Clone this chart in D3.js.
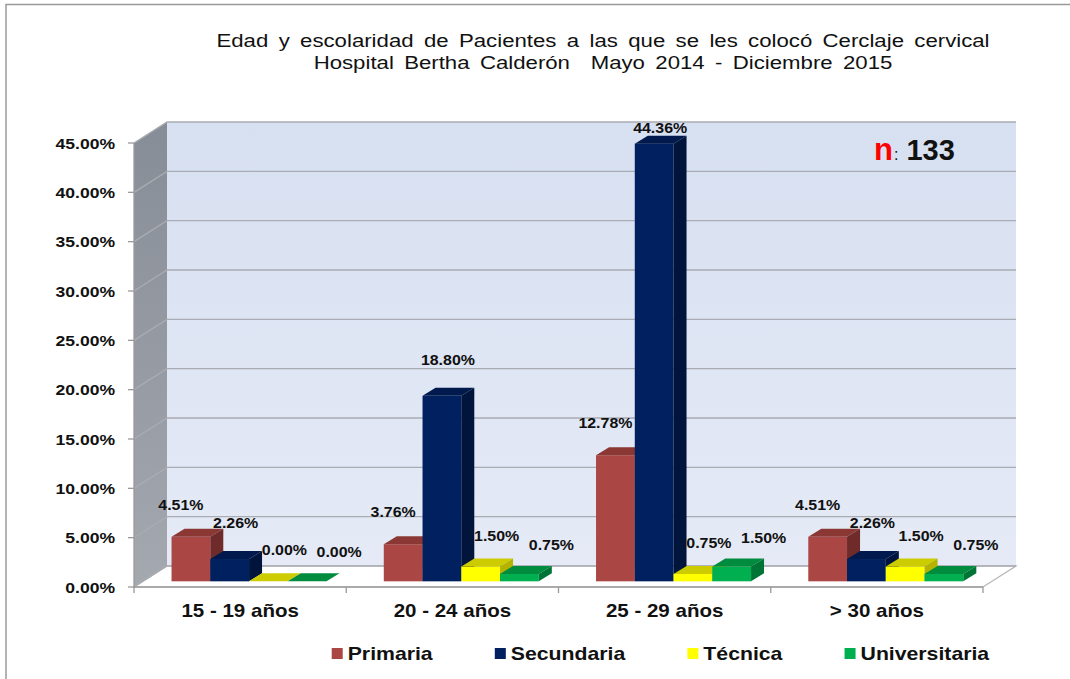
<!DOCTYPE html>
<html>
<head>
<meta charset="utf-8">
<script src="https://cdn.jsdelivr.net/npm/d3@7"></script>
<style>
  body { margin: 0; background: #fff; }
  svg { display: block; font-family: "Liberation Sans", Arial, sans-serif; }
  text { white-space: pre; }
</style>
</head>
<body>
<div id="chart"></div>
<script>
// data
var categories = ["15 - 19 años", "20 - 24 años", "25 - 29 años", "> 30 años"];
var series = ["Primaria", "Secundaria", "Técnica", "Universitaria"];
var primaria = [4.51, 3.76, 12.78, 4.51];
var secundaria = [2.26, 18.80, 44.36, 2.26];
var tecnica = [0.00, 1.50, 0.75, 1.50];
var universitaria = [0.00, 0.75, 1.50, 0.75];
var yTicks = [0, 5, 10, 15, 20, 25, 30, 35, 40, 45];
var titleLines = [
	"Edad y escolaridad de Pacientes a las que se les colocó Cerclaje cervical",
	"Hospital Bertha Calderón  Mayo 2014 - Diciembre 2015"
];
var sampleSize = 133;

var values = [primaria, secundaria, tecnica, universitaria];

// front, top and side colours for each series
var palette = [
	{ front: "#aa4643", top: "#8b3835", side: "#6e2b29" },
	{ front: "#002060", top: "#001a4e", side: "#00143c" },
	{ front: "#ffff00", top: "#cccc00", side: "#b3b300" },
	{ front: "#00b050", top: "#008c3f", side: "#007434" }
];

var width = 1070, height = 679;
var plot = { left: 134, right: 983, top: 143, bottom: 587 };
var depth = { dx: 33, dy: -21 };     // floor / wall depth
var barDepth = { dx: 13, dy: -8 };   // depth of each bar
var barShift = 0.27;                 // bars sit a bit behind the front edge

var svg = d3.select("#chart")
	.append("svg")
	.attr("width", width)
	.attr("height", height);

var defs = svg.append("defs");
var g1 = defs.append("linearGradient").attr("id", "wall").attr("x1", 0).attr("y1", 0).attr("x2", 0).attr("y2", 1);
g1.append("stop").attr("offset", "0%").attr("stop-color", "#d7e0f1");
g1.append("stop").attr("offset", "100%").attr("stop-color", "#e5eaf6");
var g2 = defs.append("linearGradient").attr("id", "side").attr("x1", 0).attr("y1", 0).attr("x2", 0).attr("y2", 1);
g2.append("stop").attr("offset", "0%").attr("stop-color", "#878d97");
g2.append("stop").attr("offset", "100%").attr("stop-color", "#a4a8af");

// outer frame
svg.append("path")
	.attr("d", "M6," + height + "V4.5H" + width)
	.attr("fill", "none")
	.attr("stroke", "#9a9a9a")
	.attr("stroke-width", 1.5);

var y = d3.scaleLinear().domain([0, 45]).range([plot.bottom, plot.top]);
var x = d3.scaleBand().domain(categories).range([plot.left, plot.right]);
var groupWidth = 155;
var xs = d3.scaleBand().domain(series).range([0, groupWidth]);

var stretch = (sel, sx) => sel.attr("transform", function () {
	var px = +d3.select(this).attr("data-x"), py = +d3.select(this).attr("data-y");
	return "translate(" + px + "," + py + ") scale(" + sx + ",1)";
});

// title
svg.append("g").selectAll("text")
	.data(titleLines)
	.join("text")
	.attr("data-x", 603)
	.attr("data-y", (d, i) => 47 + i * 22)
	.attr("text-anchor", "middle")
	.attr("font-size", 18.5)
	.attr("word-spacing", 3.5)
	.attr("fill", "#111")
	.text(d => d)
	.call(stretch, 1.2);

// back wall
var bx0 = plot.left + depth.dx, bx1 = plot.right + depth.dx;
svg.append("rect")
	.attr("x", bx0)
	.attr("y", y(45) + depth.dy)
	.attr("width", bx1 - bx0)
	.attr("height", y(0) - y(45))
	.attr("fill", "url(#wall)");

// side wall
svg.append("path")
	.attr("d", "M" + plot.left + "," + y(45) + "L" + bx0 + "," + (y(45) + depth.dy) +
		"L" + bx0 + "," + (y(0) + depth.dy) + "L" + plot.left + "," + y(0) + "Z")
	.attr("fill", "url(#side)");

// floor
svg.append("path")
	.attr("d", "M" + plot.left + "," + y(0) + "L" + bx0 + "," + (y(0) + depth.dy) +
		"L" + bx1 + "," + (y(0) + depth.dy) + "L" + plot.right + "," + y(0) + "Z")
	.attr("fill", "#fff")
	.attr("stroke", "#b4b4b4")
	.attr("stroke-width", 1.2);

// gridlines on back and side wall
var grid = svg.append("g").attr("stroke", "#a9acb2").attr("stroke-width", 1.3).attr("fill", "none");
grid.selectAll("path")
	.data(yTicks)
	.join("path")
	.attr("d", d => "M" + plot.left + "," + y(d) + "L" + bx0 + "," + (y(d) + depth.dy) + "H" + bx1);

// axes
var axes = svg.append("g").attr("stroke", "#9a9a9a").attr("stroke-width", 1.3).attr("fill", "none");
axes.append("path").attr("d", "M" + plot.left + "," + y(45) + "V" + y(0) + "H" + plot.right);
axes.selectAll(".yt")
	.data(yTicks)
	.join("path")
	.attr("class", "yt")
	.attr("d", d => "M" + (plot.left - 6) + "," + y(d) + "H" + plot.left);
axes.selectAll(".xt")
	.data(categories.concat([null]))
	.join("path")
	.attr("class", "xt")
	.attr("d", (d, i) => {
		var px = d === null ? plot.right : x(d);
		return "M" + px + "," + y(0) + "v6";
	});

// y tick labels
svg.append("g").selectAll("text")
	.data(yTicks)
	.join("text")
	.attr("data-x", plot.left - 19)
	.attr("data-y", d => y(d) + 5.5)
	.attr("text-anchor", "end")
	.attr("font-size", 15)
	.attr("font-weight", "bold")
	.attr("fill", "#111")
	.text(d => d3.format(".2f")(d) + "%")
	.call(stretch, 1.17);

// category labels
svg.append("g").selectAll("text")
	.data(categories)
	.join("text")
	.attr("data-x", d => x(d) + x.bandwidth() / 2)
	.attr("data-y", 617)
	.attr("text-anchor", "middle")
	.attr("font-size", 18)
	.attr("font-weight", "bold")
	.attr("fill", "#111")
	.text(d => d)
	.call(stretch, 1.14);

// bars
var rows = [];
categories.forEach((c, ci) => {
	series.forEach((s, si) => {
		rows.push({ cat: c, ser: s, si: si, value: values[si][ci] });
	});
});

var shiftX = barShift * depth.dx, shiftY = barShift * depth.dy;
var bw = xs.bandwidth();
var barX = d => x(d.cat) + (x.bandwidth() - groupWidth) / 2 + xs(d.ser) + shiftX;
var barTop = d => y(d.value) + shiftY;
var barBottom = y(0) + shiftY;

var bars = svg.append("g").selectAll("g")
	.data(rows)
	.join("g");

bars.append("rect")
	.attr("x", barX)
	.attr("y", barTop)
	.attr("width", bw)
	.attr("height", d => barBottom - barTop(d))
	.attr("fill", d => palette[d.si].front);

bars.append("path")
	.attr("d", d => {
		var x0 = barX(d), t = barTop(d);
		return "M" + x0 + "," + t + "l" + barDepth.dx + "," + barDepth.dy + "h" + bw +
			"l" + (-barDepth.dx) + "," + (-barDepth.dy) + "Z";
	})
	.attr("fill", d => palette[d.si].top);

bars.append("path")
	.attr("d", d => {
		var x1 = barX(d) + bw, t = barTop(d);
		return "M" + x1 + "," + t + "l" + barDepth.dx + "," + barDepth.dy +
			"V" + (barBottom + barDepth.dy) + "L" + x1 + "," + barBottom + "Z";
	})
	.attr("fill", d => palette[d.si].side);

// value labels
var labelDx = [-10, 6, 16, 32];
var labelDy = [-27, -31, -26, -24];
svg.append("g").selectAll("text")
	.data(rows)
	.join("text")
	.attr("data-x", d => barX(d) + bw / 2 + labelDx[d.si])
	.attr("data-y", d => Math.max(barTop(d) + labelDy[d.si], 133))
	.attr("text-anchor", "middle")
	.attr("font-size", 14.5)
	.attr("font-weight", "bold")
	.attr("fill", "#111")
	.text(d => d3.format(".2f")(d.value) + "%")
	.call(stretch, 1.1);

// n annotation
var nText = svg.append("text")
	.attr("x", 874)
	.attr("y", 160)
	.attr("font-weight", "bold");
nText.append("tspan").attr("fill", "#ff0000").attr("font-size", 31).text("n");
nText.append("tspan").attr("fill", "#111").attr("font-size", 16).attr("font-weight", "normal").attr("dx", 1).text(":");
nText.append("tspan").attr("fill", "#111").attr("font-size", 29).attr("dx", 8).text(sampleSize);

// legend
var legend = svg.append("g");
var items = legend.selectAll("g")
	.data(series)
	.join("g");
items.append("rect")
	.attr("width", 11)
	.attr("height", 11)
	.attr("y", 648)
	.attr("fill", (d, i) => palette[i].front);
items.append("text")
	.attr("data-x", 16)
	.attr("data-y", 660)
	.attr("font-size", 18)
	.attr("font-weight", "bold")
	.attr("fill", "#111")
	.text(d => d)
	.call(stretch, 1.18);

var gap = 61, cursor = 0, offsets = [];
items.each(function () {
	var w = 16 + d3.select(this).select("text").node().getBBox().width * 1.18;
	offsets.push(cursor);
	cursor += w + gap;
});
var total = cursor - gap, start = 661 - total / 2;
items.attr("transform", (d, i) => "translate(" + (start + offsets[i]) + ",0)");
</script>
</body>
</html>
